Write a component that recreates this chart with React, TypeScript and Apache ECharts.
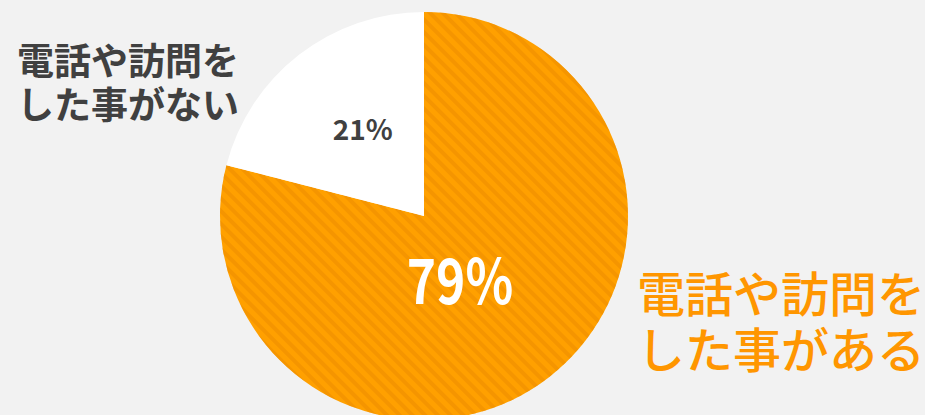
import React, { useEffect, useRef } from "react";
import * as echarts from "echarts";

const categories = ["電話や訪問をした事がある", "電話や訪問をした事がない"];
const values = [79, 21];
const nameLines = [
  ["電話や訪問を", "した事がある"],
  ["電話や訪問を", "した事がない"],
];

export default function App() {
  const ref = useRef<HTMLDivElement>(null);
  useEffect(() => {
    document.body.style.margin = "0";
    const chart = echarts.init(ref.current!, undefined, { renderer: "svg" });
    const font = '"Noto Sans CJK JP", "Noto Sans", sans-serif';
    chart.setOption({
      animation: false,
      backgroundColor: "#f2f2f2",
      series: [
        {
          type: "pie",
          center: [424, 216],
          radius: [0, 204],
          startAngle: 90,
          clockwise: true,
          silent: true,
          label: {
            show: true,
            position: "inside",
            fontFamily: font,
            formatter: (p: any) => `${p.value}%`,
          },
          labelLine: { show: false },
          labelLayout: { dx: 3, dy: -5 },
          data: [
            {
              name: categories[0],
              value: values[0],
              itemStyle: {
                color: "#FFA000",
                decal: {
                  symbol: "rect",
                  symbolSize: 1,
                  dashArrayX: [1, 0],
                  dashArrayY: [4, 5],
                  rotation: Math.PI / 4,
                  color: "rgba(236,140,0,0.55)",
                },
              },
              label: { show: false },
            },
            {
              name: categories[1],
              value: values[1],
              itemStyle: { color: "#ffffff" },
              label: { color: "#404040", fontSize: 28, fontWeight: "bold" },
            },
          ],
        },
      ],
      graphic: [
        {
          type: "text",
          x: 460,
          y: 277,
          scaleX: 0.8,
          z: 10,
          style: {
            text: `${values[0]}%`,
            fill: "#ffffff",
            font: `bold 62px ${font}`,
            align: "center",
            verticalAlign: "middle",
          },
        },
        {
          type: "text",
          left: 637,
          top: 267,
          style: { text: nameLines[0][0], fill: "#FF9600", font: `500 48px ${font}` },
        },
        {
          type: "text",
          left: 637,
          top: 323,
          style: { text: nameLines[0][1], fill: "#FF9600", font: `500 48px ${font}` },
        },
        {
          type: "text",
          left: 17,
          top: 40,
          style: { text: nameLines[1][0], fill: "#404040", font: `bold 37px ${font}` },
        },
        {
          type: "text",
          left: 17,
          top: 84,
          style: { text: nameLines[1][1], fill: "#404040", font: `bold 37px ${font}` },
        },
      ],
    });
    return () => chart.dispose();
  }, []);
  return <div ref={ref} style={{ width: 925, height: 415 }} />;
}
